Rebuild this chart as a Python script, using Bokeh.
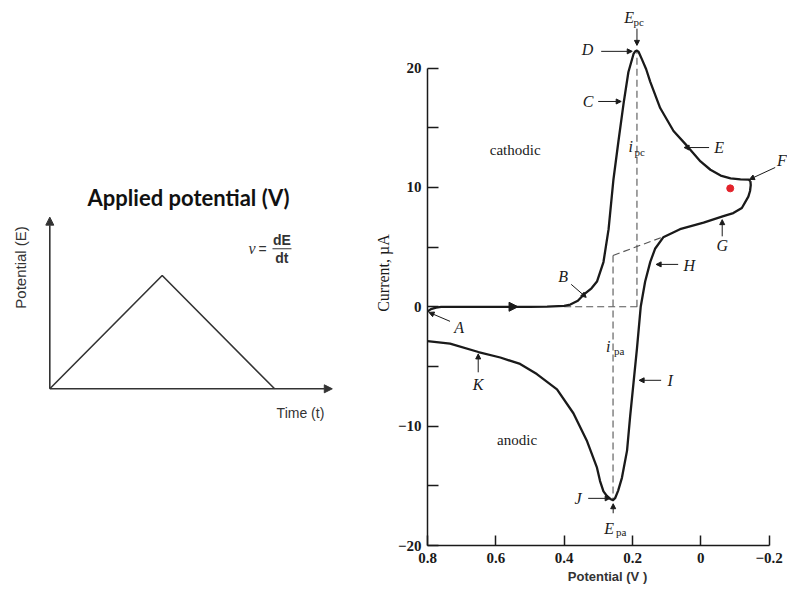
import math
from bokeh.plotting import figure
from bokeh.layouts import row
from bokeh.models import Range1d, FixedTicker, Arrow, NormalHead
from bokeh.core.properties import value
from bokeh.embed import file_html
from bokeh.resources import INLINE

# ---------------- data ----------------
# triangular potential sweep (time, potential), arbitrary units
ramp_t = [0.0, 1.0, 2.0]
ramp_E = [0.0, 1.0, 0.0]

# cyclic voltammogram, forward (cathodic) scan: potential in V, current in uA
fwd_E = [0.800, 0.790, 0.775, 0.760, 0.700, 0.600, 0.500, 0.450, 0.400, 0.382,
         0.360, 0.343, 0.320, 0.304, 0.285, 0.270, 0.256, 0.241, 0.226, 0.212,
         0.197, 0.192, 0.187, 0.182, 0.173, 0.160, 0.148, 0.119, 0.080, 0.041,
         0.001, -0.028, -0.058, -0.087, -0.116, -0.140, -0.145]
fwd_I = [-0.40, -0.20, -0.07, 0.00, 0.00, 0.00, 0.00, 0.02, 0.08, 0.19,
         0.50, 1.01, 1.55, 2.11, 3.75, 6.50, 10.62, 13.91, 17.06, 19.67,
         21.18, 21.40, 21.46, 21.35, 20.77, 19.90, 18.85, 16.65, 14.73, 13.50,
         12.18, 11.48, 10.99, 10.76, 10.67, 10.66, 10.53]

# reverse (anodic) scan
rev_E = [-0.145, -0.146, -0.144, -0.139, -0.120, -0.095, -0.066, -0.008, 0.061,
         0.110, 0.134, 0.148, 0.163, 0.176, 0.187, 0.197, 0.207, 0.216, 0.231,
         0.242, 0.251, 0.257, 0.265, 0.275, 0.285, 0.295, 0.304, 0.334, 0.373,
         0.421, 0.480, 0.529, 0.587, 0.651, 0.734, 0.800]
rev_I = [10.53, 10.20, 9.70, 9.23, 8.28, 7.85, 7.59, 7.05, 6.50,
         5.82, 4.86, 3.76, 2.12, 0.00, -3.50, -6.35, -9.20, -12.05, -14.33,
         -15.40, -16.04, -16.20, -16.10, -15.85, -15.47, -14.60, -13.48, -11.20, -8.92,
         -6.92, -5.64, -4.79, -4.25, -3.79, -3.08, -2.88]

# peak parameters
E_pc, I_pc = 0.187, 21.46
E_pa, I_pa = 0.257, -16.20
# extrapolated baseline under the anodic peak (E, I)
base_E = [0.257, 0.114]
base_I = [4.30, 5.82]
# zero-current baseline under the cathodic peak
zero_E = [0.400, 0.176]
zero_I = [0.0, 0.0]
# marked point
dot_E, dot_I = [-0.086], [9.92]

x_ticks = [0.8, 0.6, 0.4, 0.2, 0.0, -0.2]
x_tick_labels = ["0.8", "0.6", "0.4", "0.2", "0", "\u22120.2"]
y_ticks = [-20, -15, -10, -5, 0, 5, 10, 15, 20]
y_tick_labels = ["\u221220", "", "\u221210", "", "0", "", "10", "", "20"]

INK = "#1a1a1a"
SERIF = "Liberation Serif"

# ---------------- left panel: potential waveform ----------------
w = figure(width=370, height=590, x_range=Range1d(-0.4386, 2.853),
           y_range=Range1d(-1.383, 3.427), output_backend="svg",
           toolbar_location=None, x_axis_type=None, y_axis_type=None,
           min_border_left=0, min_border_right=0, min_border_top=0,
           min_border_bottom=45)
w.outline_line_color = None
w.grid.visible = False

w.line(ramp_t, ramp_E, line_color="#333333", line_width=1.6)
for xs, ys, xe, ye in [(0, 0, 0, 1.515), (0, 0, 2.513, 0)]:
    w.add_layout(Arrow(x_start=xs, y_start=ys, x_end=xe, y_end=ye,
                       line_color="#333333", line_width=1.6,
                       end=NormalHead(size=8, fill_color="#333333",
                                      line_color="#333333")))

w.text(x=[1.234], y=[1.69], text=["Applied potential (V)"],
       text_font=value("Lato"), text_font_style="bold", text_font_size="22px",
       text_color="#111111", text_align="center", text_baseline="middle")
w.text(x=[-0.2607], y=[1.071], text=["Potential (E)"], angle=math.pi / 2,
       text_font=value("Liberation Sans"), text_font_size="15px",
       text_color="#333333", text_align="center", text_baseline="middle")
w.text(x=[2.23], y=[-0.2136], text=["Time (t)"],
       text_font=value("Liberation Sans"), text_font_size="14px",
       text_color="#333333", text_align="center", text_baseline="middle")
# v = dE/dt
w.text(x=[1.80], y=[1.237], text=["\u03bd"], text_font=value(SERIF),
       text_font_style="italic", text_font_size="16px", text_color="#333333",
       text_align="center", text_baseline="middle")
w.text(x=[1.893], y=[1.237], text=["="], text_font=value("Liberation Sans"),
       text_font_size="14px", text_color="#333333",
       text_align="center", text_baseline="middle")
w.text(x=[2.065, 2.065], y=[1.315, 1.150], text=["dE", "dt"],
       text_font=value("Liberation Sans"), text_font_style="bold",
       text_font_size="14px", text_color="#333333",
       text_align="center", text_baseline="middle")
w.segment(x0=[1.981], y0=[1.236], x1=[2.15], y1=[1.236],
          line_color="#333333", line_width=1.2)

# ---------------- right panel: cyclic voltammogram ----------------
p = figure(width=417, height=590, x_range=Range1d(0.8, -0.2536),
           y_range=Range1d(-20, 25.66), output_backend="svg",
           toolbar_location=None, min_border_left=57, min_border_right=0,
           min_border_top=0, min_border_bottom=45)
p.outline_line_color = None
p.grid.visible = False

for ax in (p.xaxis[0], p.yaxis[0]):
    ax.axis_line_color = INK
    ax.axis_line_width = 1.5
    ax.major_tick_line_color = INK
    ax.major_tick_line_width = 1.5
    ax.major_tick_out = 0
    ax.minor_tick_out = 0
    ax.minor_tick_in = 0
    ax.major_label_text_font = SERIF
    ax.major_label_text_font_style = "bold"
    ax.major_label_text_font_size = "15px"
    ax.major_label_text_color = INK

p.xaxis.bounds = (-0.2, 0.8)
p.xaxis.ticker = FixedTicker(ticks=x_ticks)
p.xaxis.major_label_overrides = dict(zip(x_ticks, x_tick_labels))
p.xaxis.major_tick_in = 10
p.xaxis.major_label_standoff = 7
p.xaxis.axis_label = "Potential (V )"
p.xaxis.axis_label_text_font = "Liberation Sans"
p.xaxis.axis_label_text_font_style = "bold"
p.xaxis.axis_label_text_font_size = "13px"
p.xaxis.axis_label_text_color = "#333333"
p.xaxis.axis_label_standoff = 3

p.yaxis.bounds = (-20, 20)
p.yaxis.ticker = FixedTicker(ticks=y_ticks)
p.yaxis.major_label_overrides = dict(zip(y_ticks, y_tick_labels))
p.yaxis.major_tick_in = 11
p.yaxis.major_label_standoff = 6
p.yaxis.axis_label = "Current, \u00b5A"
p.yaxis.axis_label_text_font = SERIF
p.yaxis.axis_label_text_font_style = "normal"
p.yaxis.axis_label_text_font_size = "16px"
p.yaxis.axis_label_text_color = INK
p.yaxis.axis_label_standoff = 3

# dashed construction lines
dash = dict(line_color="#555555", line_width=1.1, line_dash="7 4")
p.line(zero_E, zero_I, **dash)
p.line(base_E, base_I, **dash)
p.line([E_pc, E_pc], [0.0, I_pc], **dash)
p.line([E_pa, E_pa], [base_I[0], I_pa], **dash)

# voltammogram
p.line(fwd_E, fwd_I, line_color=INK, line_width=2.3, line_join="round")
p.line(rev_E, rev_I, line_color=INK, line_width=2.3, line_join="round")

# scan direction on the baseline
p.add_layout(Arrow(x_start=0.565, y_start=0, x_end=0.535, y_end=0,
                   line_color=INK, line_width=1.5,
                   end=NormalHead(size=9, fill_color=INK, line_color=INK)))

p.scatter(dot_E, dot_I, size=7, color="#e3232b")

# pointer labels A..K
letters = ["A", "B", "C", "D", "E", "F", "G", "H", "I", "J", "K"]
lx = [0.7076, 0.4029, 0.3297, 0.3315, -0.0534, -0.237, -0.0625, 0.0342, 0.0898, 0.3594, 0.6516]
ly = [-1.73, 2.55, 17.2, 21.56, 13.34, 12.26, 5.14, 3.47, -6.16, -16.05, -6.5]
pointers = [(0.7341, -1.22, 0.7956, -0.47), (0.3795, 1.88, 0.3356, 0.79),
            (0.3004, 17.2, 0.2331, 17.2), (0.2917, 21.4, 0.2008, 21.4),
            (-0.0241, 13.34, 0.049, 13.34), (-0.2176, 11.67, -0.1423, 10.67),
            (-0.0625, 5.9, -0.0625, 7.3), (0.0664, 3.55, 0.1308, 3.55),
            (0.1162, -6.16, 0.1806, -6.16), (0.3297, -16.05, 0.2654, -16.05),
            (0.6516, -5.49, 0.6516, -3.95), (0.187, 23.3, 0.187, 21.9),
            (0.2566, -17.3, 0.2566, -16.5)]
p.text(x=lx, y=ly, text=letters, text_font=value(SERIF),
       text_font_style="italic", text_font_size="16px", text_color=INK,
       text_align="center", text_baseline="middle")
for xs, ys, xe, ye in pointers:
    p.add_layout(Arrow(x_start=xs, y_start=ys, x_end=xe, y_end=ye,
                       line_color=INK, line_width=1.0,
                       end=NormalHead(size=5, fill_color=INK, line_color=INK)))

# symbols with subscripts
p.text(x=[0.2100, 0.2682, 0.2053, 0.2712], y=[24.24, -18.56, 13.43, -3.32],
       text=["E", "E", "i", "i"], text_font=value(SERIF),
       text_font_style="italic", text_font_size="16px", text_color=INK,
       text_align="center", text_baseline="middle")
p.text(x=[0.1819, 0.2331, 0.179, 0.239], y=[23.9, -18.89, 13.0, -3.73],
       text=["pc", "pa", "pc", "pa"], text_font=value(SERIF),
       text_font_size="11px", text_color=INK,
       text_align="center", text_baseline="middle")

p.text(x=[0.5433, 0.5378], y=[13.10, -11.19], text=["cathodic", "anodic"],
       text_font=value(SERIF), text_font_size="15px", text_color=INK,
       text_align="center", text_baseline="middle")

layout = row(w, p, spacing=0)
open("out.html", "w").write(file_html(layout, INLINE))
